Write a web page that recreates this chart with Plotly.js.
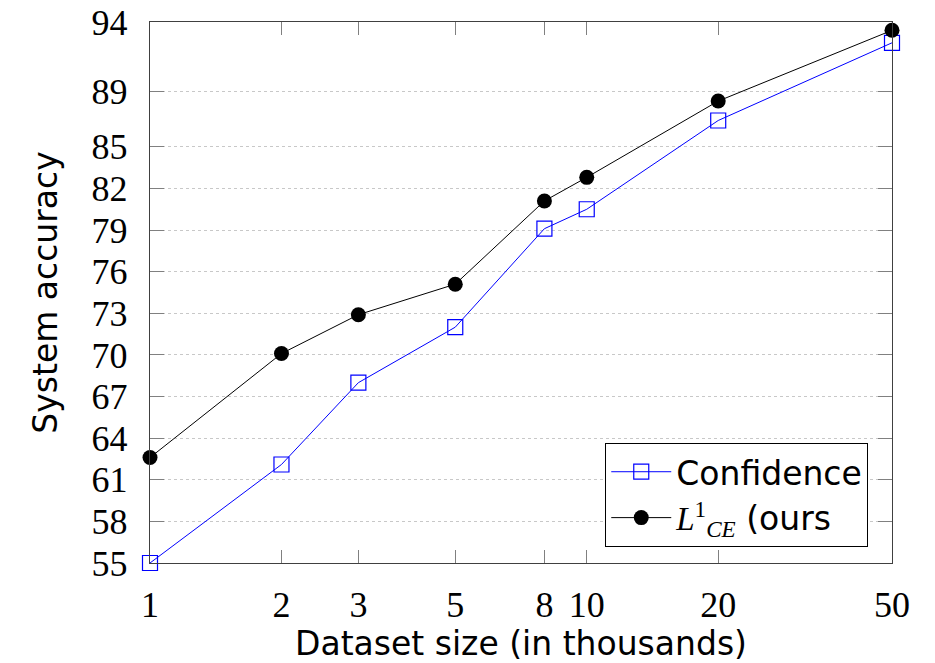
<!DOCTYPE html>
<html>
<head>
<meta charset="utf-8">
<script src="https://cdn.plot.ly/plotly-3.0.1.min.js"></script>
<style>html,body{margin:0;padding:0;background:#fff;}#chart{width:935px;height:663px;}</style>
</head>
<body>
<div id="chart"></div>
<script>
const datasetSizes = [1, 2, 3, 5, 8, 10, 20, 50];
const confidenceAcc = [55.0, 62.1, 68.0, 72.0, 79.1, 80.5, 86.9, 92.5];
const oursAcc = [62.6, 70.1, 72.9, 75.1, 81.1, 82.8, 88.3, 93.4];
const yTicks = [55, 58, 61, 64, 67, 70, 73, 76, 79, 82, 85, 89, 94];
const xTicks = [1, 2, 3, 5, 8, 10, 20, 50];
const seriesNames = ["Confidence", "<span style='font-family:Liberation Serif'><i>L</i><sup>1</sup><sub><i>CE</i></sub></span> (ours"];

const traces = [
  {
    x: datasetSizes, y: confidenceAcc, name: seriesNames[0],
    type: 'scatter', mode: 'lines+markers',
    line: {color: '#0000ff', width: 1},
    marker: {symbol: 'square-open', size: 15, color: '#0000ff', line: {color: '#0000ff', width: 1.2}},
    cliponaxis: false
  },
  {
    x: datasetSizes, y: oursAcc, name: seriesNames[1],
    type: 'scatter', mode: 'lines+markers',
    line: {color: '#000000', width: 1},
    marker: {symbol: 'circle', size: 15, color: '#000000'},
    cliponaxis: false
  }
];

const sansFont = 'DejaVu Sans';

const layout = {
  width: 935, height: 663,
  margin: {l: 150, r: 43, t: 22, b: 100},
  paper_bgcolor: '#fff', plot_bgcolor: '#fff',
  showlegend: true,
  xaxis: {
    type: 'log', range: [0, Math.log10(50)],
    tickvals: xTicks, ticktext: xTicks.map(String),
    ticks: 'inside', ticklen: 13, tickcolor: '#808080', tickwidth: 1,
    mirror: 'ticks', showline: true, linecolor: '#404040', linewidth: 1.2,
    showgrid: false, zeroline: false,
    tickfont: {family: 'Liberation Serif', size: 36, color: '#000'},
    ticklabelstandoff: 10,
    title: {text: 'Dataset size (in thousands)', font: {family: sansFont, size: 33, color: '#000'}, standoff: 4}
  },
  yaxis: {
    range: [55, 94],
    tickvals: yTicks, ticktext: yTicks.map(String),
    ticks: 'inside', ticklen: 14, tickcolor: '#808080', tickwidth: 1,
    mirror: 'ticks', showline: true, linecolor: '#404040', linewidth: 1.2,
    showgrid: true, gridcolor: '#c8c8c8', griddash: 'dot', gridwidth: 1,
    zeroline: false,
    tickfont: {family: 'Liberation Serif', size: 36, color: '#000'},
    ticklabelstandoff: 14,
    title: {text: 'System accuracy', font: {family: sansFont, size: 33, color: '#000'}, standoff: 24}
  },
  legend: {
    x: 0.968, y: 0.03, xanchor: 'right', yanchor: 'bottom',
    bgcolor: '#fff', bordercolor: '#000', borderwidth: 1,
    font: {family: sansFont, size: 33, color: '#000'},
    tracegroupgap: 0, itemwidth: 60
  }
};

Plotly.newPlot('chart', traces, layout, {displayModeBar: false, staticPlot: true});
</script>
</body>
</html>
